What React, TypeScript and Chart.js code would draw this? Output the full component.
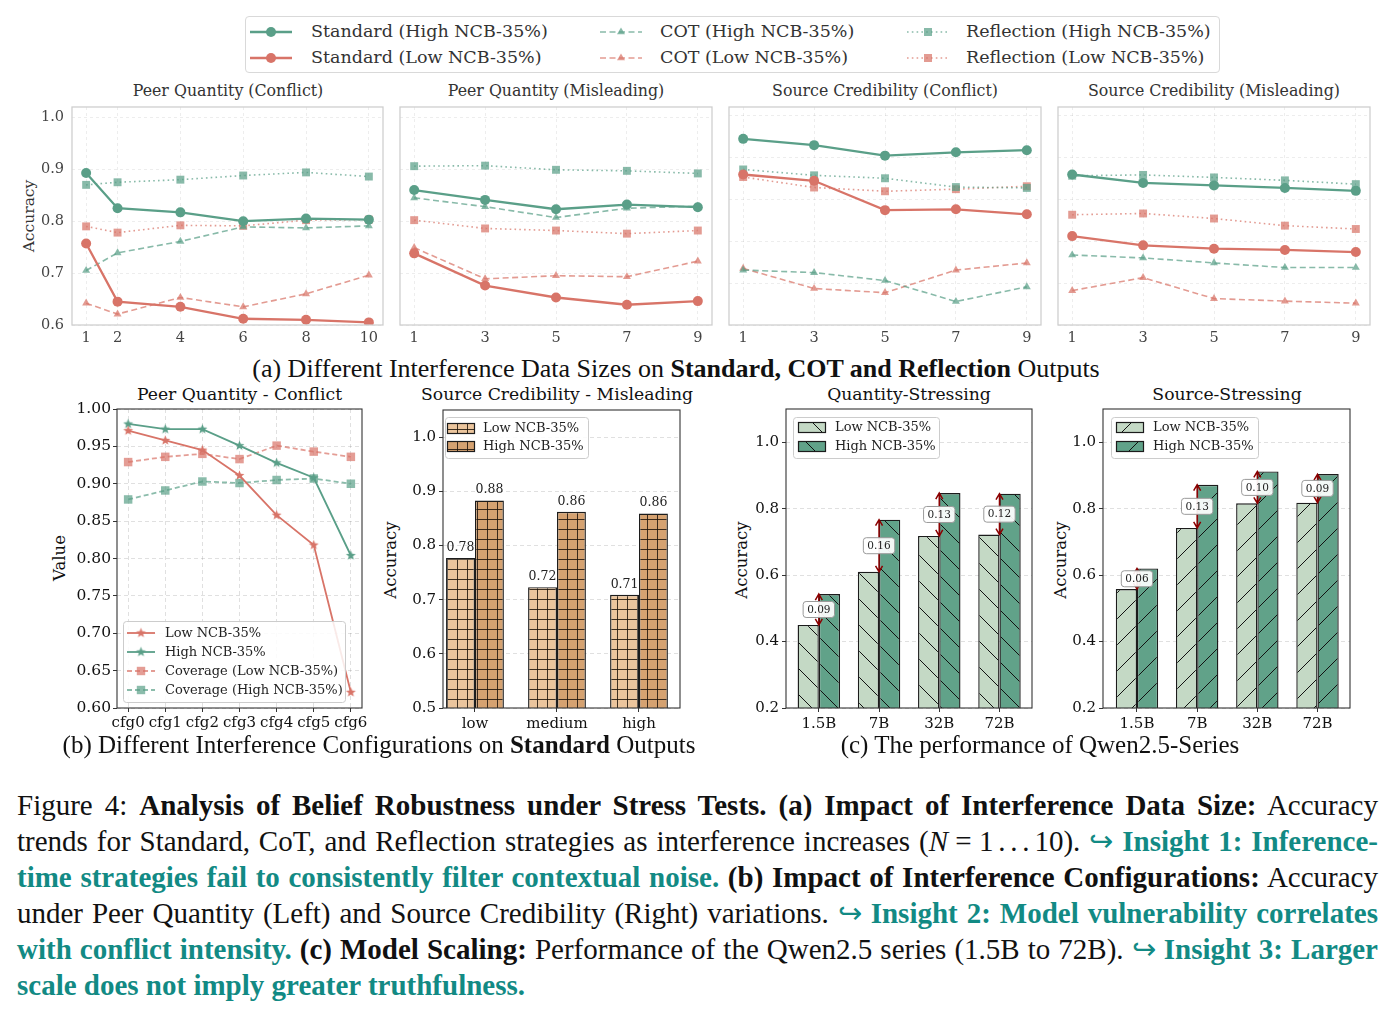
import React, { useEffect, useLayoutEffect, useRef } from 'react';
import { Chart, registerables } from 'chart.js';

Chart.register(...registerables);

const SERIF = "'DejaVu Serif', serif";
const TIMES = "'Liberation Serif', 'Times New Roman', serif";
const TEAL = '#128a84';

const GREEN = [90, 159, 136];
const RED = [216, 116, 104];
const rgba = (c: number[], a = 1) => `rgba(${c[0]},${c[1]},${c[2]},${a})`;

// ---------- (a) interference data size ----------
const sizesWide = [1, 2, 4, 6, 8, 10];
const sizesOdd = [1, 3, 5, 7, 9];
const accTicksPQ = [0.6, 0.7, 0.8, 0.9, 1.0];
const accTicksSC = [0.5, 0.6, 0.7, 0.8, 0.9, 1.0];

const pqcStdHigh = [0.893, 0.825, 0.817, 0.8, 0.805, 0.803];
const pqcStdLow = [0.757, 0.645, 0.635, 0.612, 0.61, 0.605];
const pqcCotHigh = [0.705, 0.739, 0.761, 0.789, 0.787, 0.791];
const pqcCotLow = [0.642, 0.621, 0.653, 0.635, 0.66, 0.696];
const pqcReflHigh = [0.87, 0.875, 0.88, 0.888, 0.894, 0.886];
const pqcReflLow = [0.79, 0.778, 0.792, 0.791, 0.802, 0.803];

const pqmStdHigh = [0.86, 0.841, 0.823, 0.832, 0.827];
const pqmStdLow = [0.738, 0.676, 0.653, 0.639, 0.646];
const pqmCotHigh = [0.845, 0.828, 0.807, 0.825, 0.829];
const pqmCotLow = [0.749, 0.689, 0.695, 0.693, 0.723];
const pqmReflHigh = [0.906, 0.907, 0.899, 0.897, 0.892];
const pqmReflLow = [0.802, 0.786, 0.782, 0.776, 0.782];

const sccStdHigh = [0.944, 0.929, 0.904, 0.912, 0.917];
const sccStdLow = [0.859, 0.844, 0.774, 0.776, 0.764];
const sccCotHigh = [0.631, 0.625, 0.606, 0.556, 0.591];
const sccCotLow = [0.635, 0.587, 0.577, 0.631, 0.648];
const sccReflHigh = [0.871, 0.857, 0.85, 0.829, 0.827];
const sccReflLow = [0.853, 0.828, 0.819, 0.824, 0.831];

const scmStdHigh = [0.859, 0.839, 0.833, 0.827, 0.82];
const scmStdLow = [0.712, 0.69, 0.682, 0.679, 0.674];
const scmCotHigh = [0.667, 0.66, 0.648, 0.637, 0.637];
const scmCotLow = [0.582, 0.613, 0.563, 0.557, 0.552];
const scmReflHigh = [0.856, 0.858, 0.852, 0.845, 0.836];
const scmReflLow = [0.763, 0.766, 0.754, 0.737, 0.729];

// ---------- (b) interference configurations ----------
const configLabels = ['cfg0', 'cfg1', 'cfg2', 'cfg3', 'cfg4', 'cfg5', 'cfg6'];
const cfgLow = [0.971, 0.958, 0.945, 0.911, 0.858, 0.818, 0.621];
const cfgHigh = [0.98, 0.973, 0.973, 0.951, 0.928, 0.908, 0.804];
const coverageLow = [0.929, 0.936, 0.94, 0.933, 0.951, 0.943, 0.936];
const coverageHigh = [0.879, 0.891, 0.903, 0.901, 0.905, 0.907, 0.9];
const valueTicks = [0.6, 0.65, 0.7, 0.75, 0.8, 0.85, 0.9, 0.95, 1.0];

const credibilityLevels = ['low', 'medium', 'high'];
const credLowNcb = [0.777, 0.723, 0.709];
const credHighNcb = [0.883, 0.862, 0.859];
const credTicks = [0.5, 0.6, 0.7, 0.8, 0.9, 1.0];

// ---------- (c) Qwen2.5 scaling ----------
const modelSizes = ['1.5B', '7B', '32B', '72B'];
const qtyLow = [0.45, 0.61, 0.718, 0.722];
const qtyHigh = [0.543, 0.767, 0.847, 0.845];
const srcLow = [0.558, 0.742, 0.816, 0.818];
const srcHigh = [0.62, 0.872, 0.912, 0.904];
const scaleTicks = [0.2, 0.4, 0.6, 0.8, 1.0];

type CanvasRect = { left: number; top: number; width: number; height: number };
type PlotBox = { l: number; t: number; r: number; b: number };

function frame(canvas: CanvasRect, plot: PlotBox) {
  return {
    padding: { left: 0, top: plot.t - canvas.top, right: canvas.left + canvas.width - plot.r, bottom: 0 },
    yWidth: plot.l - canvas.left,
    xHeight: canvas.top + canvas.height - plot.b,
  };
}

const fixedTicks = (values: number[]) => (scale: any) => {
  scale.ticks = values.map((value) => ({ value }));
};

const framePlugin = (color: string, width: number) => ({
  id: 'frameBox',
  afterDatasetsDraw(chart: any) {
    const { ctx, chartArea: a } = chart;
    ctx.save();
    ctx.strokeStyle = color;
    ctx.lineWidth = width;
    ctx.strokeRect(a.left, a.top, a.right - a.left, a.bottom - a.top);
    ctx.restore();
  },
});

type LegendRow = { label: string; sample: (ctx: CanvasRenderingContext2D, x: number, y: number) => void };
const boxLegend = (box: { x: number; y: number; w: number; h: number }, rows: LegendRow[], rowY: number[], textX: number) => ({
  id: 'boxLegend',
  afterDraw(chart: any) {
    const { ctx, chartArea: a } = chart;
    ctx.save();
    ctx.beginPath();
    ctx.roundRect(a.left + box.x + 0.5, a.top + box.y + 0.5, box.w, box.h, 3);
    ctx.fillStyle = 'rgba(255,255,255,0.85)';
    ctx.fill();
    ctx.strokeStyle = '#cccccc';
    ctx.lineWidth = 1;
    ctx.stroke();
    rows.forEach((row, i) => {
      row.sample(ctx, a.left, a.top + rowY[i]);
      ctx.fillStyle = '#222';
      ctx.font = `13px ${SERIF}`;
      ctx.textAlign = 'left';
      ctx.textBaseline = 'middle';
      ctx.fillText(row.label, a.left + textX, a.top + rowY[i] + 0.5);
    });
    ctx.restore();
  },
});

function hatch(base: string, kind: 'grid' | 'back' | 'fwd', step: number, ink: string, lw: number): CanvasPattern {
  const c = document.createElement('canvas');
  c.width = step;
  c.height = step;
  const g = c.getContext('2d')!;
  g.fillStyle = base;
  g.fillRect(0, 0, step, step);
  g.strokeStyle = ink;
  g.lineWidth = lw;
  g.beginPath();
  if (kind === 'grid') {
    const m = Math.floor(step / 2) + 0.5;
    g.moveTo(m, 0);
    g.lineTo(m, step);
    g.moveTo(0, m);
    g.lineTo(step, m);
  } else if (kind === 'back') {
    for (const k of [-1, 0, 1]) {
      g.moveTo(k * step, 0);
      g.lineTo(k * step + step, step);
    }
  } else {
    for (const k of [-1, 0, 1]) {
      g.moveTo(k * step, step);
      g.lineTo(k * step + step, 0);
    }
  }
  g.stroke();
  return g.createPattern(c, 'repeat')!;
}

function starMarker(color: string, r: number): HTMLCanvasElement {
  const size = Math.ceil(r * 2 + 2);
  const c = document.createElement('canvas');
  c.width = size;
  c.height = size;
  const g = c.getContext('2d')!;
  g.fillStyle = color;
  g.beginPath();
  for (let k = 0; k < 10; k++) {
    const rad = k % 2 === 0 ? r : r * 0.42;
    const ang = -Math.PI / 2 + (k * Math.PI) / 5;
    const px = size / 2 + rad * Math.cos(ang);
    const py = size / 2 + rad * Math.sin(ang);
    if (k === 0) g.moveTo(px, py);
    else g.lineTo(px, py);
  }
  g.closePath();
  g.fill();
  return c;
}

const baseOptions = (f: ReturnType<typeof frame>) => ({
  responsive: false,
  animation: false,
  events: [],
  layout: { padding: f.padding },
  plugins: { legend: { display: false }, tooltip: { enabled: false } },
});

// ---------- (a) line panels ----------
type Pair = [number[], number[]];
function strategyChart(p: {
  canvas: CanvasRect; plot: PlotBox; xs: number[]; xMin: number; xMax: number;
  yMin: number; yTicks: number[]; showY: boolean; std: Pair; cot: Pair; refl: Pair;
}) {
  const f = frame(p.canvas, p.plot);
  const pts = (ys: number[]) => p.xs.map((x, i) => ({ x, y: ys[i] }));
  const std = (ys: number[], rgb: number[]) => ({
    data: pts(ys), borderColor: rgba(rgb, 1), backgroundColor: rgba(rgb, 1), borderWidth: 2.3,
    pointStyle: 'circle', pointRadius: 5, pointBorderWidth: 0, pointBackgroundColor: rgba(rgb, 1),
  });
  const cot = (ys: number[], rgb: number[]) => ({
    data: pts(ys), borderColor: rgba(rgb, 0.72), borderWidth: 1.6, borderDash: [6, 3.5],
    pointStyle: 'triangle', pointRadius: 4.6, pointBorderWidth: 0, pointBackgroundColor: rgba(rgb, 0.72),
  });
  const refl = (ys: number[], rgb: number[]) => ({
    data: pts(ys), borderColor: rgba(rgb, 0.72), borderWidth: 1.6, borderDash: [1.6, 3.2],
    pointStyle: 'rect', pointRadius: 5.6, pointBorderWidth: 0, pointBackgroundColor: rgba(rgb, 0.72),
  });
  return {
    type: 'line',
    data: {
      datasets: [
        std(p.std[0], GREEN), std(p.std[1], RED),
        cot(p.cot[0], GREEN), cot(p.cot[1], RED),
        refl(p.refl[0], GREEN), refl(p.refl[1], RED),
      ],
    },
    options: {
      ...baseOptions(f),
      scales: {
        x: {
          type: 'linear', min: p.xMin, max: p.xMax, bounds: 'data',
          afterBuildTicks: fixedTicks(p.xs),
          afterFit: (s: any) => { s.height = f.xHeight; },
          ticks: { autoSkip: false, maxRotation: 0, padding: 5, color: '#444', font: { family: SERIF, size: 14.5 }, callback: (v: number) => String(v) },
          grid: { color: 'rgba(0,0,0,0.07)', lineWidth: 1, drawTicks: false },
          border: { display: false, dash: [3, 3] },
        },
        y: {
          type: 'linear', min: p.yMin, max: 1.02, bounds: 'data',
          afterBuildTicks: fixedTicks(p.yTicks),
          afterFit: (s: any) => { s.width = f.yWidth; },
          ticks: { display: p.showY, padding: 8, color: '#444', font: { family: SERIF, size: 14.5 }, callback: (v: number) => v.toFixed(1) },
          grid: { color: 'rgba(0,0,0,0.07)', lineWidth: 1, drawTicks: false },
          border: { display: false, dash: [3, 3] },
        },
      },
    },
    plugins: [framePlugin('#cfcfcf', 1.3)],
  };
}

// ---------- (b) left: configuration lines ----------
function configChart(canvas: CanvasRect, plot: PlotBox) {
  const f = frame(canvas, plot);
  const xs = configLabels.map((_, i) => i);
  const pts = (ys: number[]) => xs.map((x, i) => ({ x, y: ys[i] }));
  const starRed = starMarker(rgba(RED, 1), 5.2);
  const starGreen = starMarker(rgba(GREEN, 1), 5.2);
  const solid = (ys: number[], rgb: number[], star: HTMLCanvasElement) => ({
    data: pts(ys), borderColor: rgba(rgb, 1), borderWidth: 1.8, pointStyle: star, pointRadius: 5,
  });
  const dashed = (ys: number[], rgb: number[]) => ({
    data: pts(ys), borderColor: rgba(rgb, 0.7), borderWidth: 1.8, borderDash: [5, 3],
    pointStyle: 'rect', pointRadius: 6, pointBorderWidth: 0, pointBackgroundColor: rgba(rgb, 0.7),
  });
  const lineSample = (rgb: number[], a: number, dash: number[], marker: (ctx: CanvasRenderingContext2D, x: number, y: number) => void) =>
    (ctx: CanvasRenderingContext2D, ox: number, y: number) => {
      ctx.save();
      ctx.strokeStyle = rgba(rgb, a);
      ctx.lineWidth = 1.8;
      ctx.setLineDash(dash);
      ctx.beginPath();
      ctx.moveTo(ox + 10, y);
      ctx.lineTo(ox + 38, y);
      ctx.stroke();
      ctx.setLineDash([]);
      marker(ctx, ox + 24, y);
      ctx.restore();
    };
  const starAt = (img: HTMLCanvasElement) => (ctx: CanvasRenderingContext2D, x: number, y: number) =>
    ctx.drawImage(img, x - img.width / 2, y - img.height / 2);
  const squareAt = (rgb: number[]) => (ctx: CanvasRenderingContext2D, x: number, y: number) => {
    ctx.fillStyle = rgba(rgb, 0.7);
    ctx.fillRect(x - 4.2, y - 4.2, 8.4, 8.4);
  };
  return {
    type: 'line',
    data: {
      datasets: [
        solid(cfgLow, RED, starRed), solid(cfgHigh, GREEN, starGreen),
        dashed(coverageLow, RED), dashed(coverageHigh, GREEN),
      ],
    },
    options: {
      ...baseOptions(f),
      scales: {
        x: {
          type: 'linear', min: -0.3, max: 6.3, bounds: 'data',
          afterBuildTicks: fixedTicks(xs),
          afterFit: (s: any) => { s.height = f.xHeight; },
          ticks: { autoSkip: false, maxRotation: 0, padding: 2, color: '#111', font: { family: SERIF, size: 15 }, callback: (v: number) => configLabels[v] },
          grid: { color: 'rgba(0,0,0,0.12)', tickColor: '#333', tickLength: 4, tickBorderDash: [] },
          border: { display: false, dash: [4, 3] },
        },
        y: {
          type: 'linear', min: 0.6, max: 1.0, bounds: 'data',
          afterBuildTicks: fixedTicks(valueTicks),
          afterFit: (s: any) => { s.width = f.yWidth; },
          ticks: { padding: 2, color: '#111', font: { family: SERIF, size: 15.5 }, callback: (v: number) => v.toFixed(2) },
          grid: { color: 'rgba(0,0,0,0.12)', tickColor: '#333', tickLength: 4, tickBorderDash: [] },
          border: { display: false, dash: [4, 3] },
        },
      },
    },
    plugins: [
      framePlugin('#333', 1.1),
      boxLegend({ x: 6, y: 212, w: 222, h: 81 }, [
        { label: 'Low NCB-35%', sample: lineSample(RED, 1, [], starAt(starRed)) },
        { label: 'High NCB-35%', sample: lineSample(GREEN, 1, [], starAt(starGreen)) },
        { label: 'Coverage (Low NCB-35%)', sample: lineSample(RED, 0.7, [5, 3], squareAt(RED)) },
        { label: 'Coverage (High NCB-35%)', sample: lineSample(GREEN, 0.7, [5, 3], squareAt(GREEN)) },
      ], [224, 243, 262, 281], 48),
    ],
  };
}

// ---------- grouped hatched bars ----------
function barChart(p: {
  canvas: CanvasRect; plot: PlotBox; cats: string[]; xMin: number; xMax: number;
  yMin: number; yMax: number; yTicks: number[]; yDigits: number;
  low: number[]; high: number[]; lowFill: CanvasPattern; highFill: CanvasPattern;
  legend: { box: { x: number; y: number; w: number; h: number }; rows: number[]; patchX: number; textX: number };
  extra: any;
}) {
  const f = frame(p.canvas, p.plot);
  const xs = p.cats.map((_, i) => i);
  const pts = (ys: number[]) => xs.map((x, i) => ({ x, y: ys[i] }));
  const bar = (ys: number[], fill: CanvasPattern) => ({
    data: pts(ys), backgroundColor: fill, borderColor: '#1c1c1c', borderWidth: 1.4, borderSkipped: false,
    categoryPercentage: 0.705, barPercentage: 1,
  });
  const patch = (fill: CanvasPattern) => (ctx: CanvasRenderingContext2D, ox: number, y: number) => {
    ctx.fillStyle = fill;
    ctx.fillRect(ox + p.legend.patchX, y - 5, 27, 10);
    ctx.strokeStyle = '#1c1c1c';
    ctx.lineWidth = 1.2;
    ctx.strokeRect(ox + p.legend.patchX + 0.5, y - 5 + 0.5, 27, 10);
  };
  return {
    type: 'bar',
    data: { datasets: [bar(p.low, p.lowFill), bar(p.high, p.highFill)] },
    options: {
      ...baseOptions(f),
      scales: {
        x: {
          type: 'linear', min: p.xMin, max: p.xMax, bounds: 'data', offset: false,
          afterBuildTicks: fixedTicks(xs),
          afterFit: (s: any) => { s.height = f.xHeight; },
          ticks: { autoSkip: false, maxRotation: 0, padding: 3, color: '#111', font: { family: SERIF, size: 15 }, callback: (v: number) => p.cats[v] },
          grid: { offset: false, drawOnChartArea: false, tickColor: '#333', tickLength: 4 },
          border: { display: false },
        },
        y: {
          type: 'linear', min: p.yMin, max: p.yMax, bounds: 'data',
          afterBuildTicks: fixedTicks(p.yTicks),
          afterFit: (s: any) => { s.width = f.yWidth; },
          ticks: { padding: 3, color: '#111', font: { family: SERIF, size: 15 }, callback: (v: number) => v.toFixed(p.yDigits) },
          grid: { color: 'rgba(0,0,0,0.12)', tickColor: '#333', tickLength: 4, tickBorderDash: [] },
          border: { display: false, dash: [4, 3] },
        },
      },
    },
    plugins: [
      framePlugin('#333', 1.1),
      p.extra,
      boxLegend(p.legend.box, [
        { label: 'Low NCB-35%', sample: patch(p.lowFill) },
        { label: 'High NCB-35%', sample: patch(p.highFill) },
      ], p.legend.rows, p.legend.textX),
    ],
  };
}

const valueLabels = {
  id: 'valueLabels',
  afterDatasetsDraw(chart: any) {
    const { ctx } = chart;
    ctx.save();
    ctx.font = `12.5px ${SERIF}`;
    ctx.fillStyle = '#222';
    ctx.textAlign = 'center';
    ctx.textBaseline = 'bottom';
    chart.data.datasets.forEach((ds: any, d: number) => {
      chart.getDatasetMeta(d).data.forEach((el: any, i: number) => {
        ctx.fillText(ds.data[i].y.toFixed(2), el.x, el.y - 4);
      });
    });
    ctx.restore();
  },
};

function gapArrows(lows: number[], highs: number[]) {
  return {
    id: 'gapArrows',
    afterDatasetsDraw(chart: any) {
      const { ctx } = chart;
      const xs = chart.scales.x;
      const ys = chart.scales.y;
      ctx.save();
      lows.forEach((lo, i) => {
        const hi = highs[i];
        const px = xs.getPixelForValue(i);
        const yLo = ys.getPixelForValue(lo);
        const yHi = ys.getPixelForValue(hi);
        ctx.strokeStyle = '#8b0000';
        ctx.lineWidth = 1.5;
        ctx.beginPath();
        ctx.moveTo(px, yHi);
        ctx.lineTo(px, yLo);
        ctx.moveTo(px - 3.5, yHi + 6);
        ctx.lineTo(px, yHi);
        ctx.lineTo(px + 3.5, yHi + 6);
        ctx.moveTo(px - 3.5, yLo - 6);
        ctx.lineTo(px, yLo);
        ctx.lineTo(px + 3.5, yLo - 6);
        ctx.stroke();
        const label = (hi - lo).toFixed(2);
        ctx.font = `10.5px ${SERIF}`;
        const w = ctx.measureText(label).width + 8;
        const h = 16;
        const cy = (yLo + yHi) / 2;
        ctx.beginPath();
        ctx.roundRect(px - w / 2, cy - h / 2, w, h, 3);
        ctx.fillStyle = 'rgba(255,255,255,0.92)';
        ctx.fill();
        ctx.strokeStyle = '#9a9a9a';
        ctx.lineWidth = 1;
        ctx.stroke();
        ctx.fillStyle = '#222';
        ctx.textAlign = 'center';
        ctx.textBaseline = 'middle';
        ctx.fillText(label, px, cy + 0.5);
      });
      ctx.restore();
    },
  };
}

function ChartCanvas({ rect, build }: { rect: CanvasRect; build: () => any }) {
  const ref = useRef<HTMLCanvasElement | null>(null);
  useEffect(() => {
    if (!ref.current) return;
    const chart = new Chart(ref.current, build());
    return () => chart.destroy();
  }, []);
  return (
    <canvas
      ref={ref}
      width={rect.width}
      height={rect.height}
      style={{ position: 'absolute', left: rect.left, top: rect.top, width: rect.width, height: rect.height }}
    />
  );
}

function Txt(props: { x: number; y: number; size: number; children: any; family?: string; color?: string; rotate?: boolean }) {
  return (
    <div
      style={{
        position: 'absolute', left: props.x, top: props.y, whiteSpace: 'nowrap', lineHeight: 1,
        fontFamily: props.family || SERIF, fontSize: props.size, color: props.color || '#222',
        transform: `translate(-50%, -50%)${props.rotate ? ' rotate(-90deg)' : ''}`,
      }}
    >
      {props.children}
    </div>
  );
}

function StrategySample({ rgb, kind }: { rgb: number[]; kind: 'std' | 'cot' | 'refl' }) {
  const color = rgba(rgb, kind === 'std' ? 1 : 0.72);
  const dash = kind === 'std' ? undefined : kind === 'cot' ? '6 3.5' : '1.6 3.2';
  return (
    <svg width={42} height={14} style={{ display: 'block' }}>
      <line x1={0} y1={7} x2={42} y2={7} stroke={color} strokeWidth={kind === 'std' ? 2.3 : 1.6} strokeDasharray={dash} />
      {kind === 'std' && <circle cx={21} cy={7} r={5} fill={color} />}
      {kind === 'cot' && <polygon points="21,2.4 25,9.3 17,9.3" fill={color} />}
      {kind === 'refl' && <rect x={17} y={3} width={8} height={8} fill={color} />}
    </svg>
  );
}

const legendColumns: { kind: 'std' | 'cot' | 'refl'; name: string; sx: number; tx: number }[] = [
  { kind: 'std', name: 'Standard', sx: 250, tx: 311 },
  { kind: 'cot', name: 'COT', sx: 600, tx: 660 },
  { kind: 'refl', name: 'Reflection', sx: 907, tx: 966 },
];

function StrategyLegend() {
  const rows: { rgb: number[]; tag: string; y: number }[] = [
    { rgb: GREEN, tag: 'High NCB-35%', y: 32 },
    { rgb: RED, tag: 'Low NCB-35%', y: 58 },
  ];
  return (
    <>
      <div style={{ position: 'absolute', left: 245, top: 16, width: 975, height: 57, border: '1px solid #d9d9d9', borderRadius: 4, boxSizing: 'border-box' }} />
      {legendColumns.map((c) =>
        rows.map((r) => (
          <React.Fragment key={c.name + r.tag}>
            <div style={{ position: 'absolute', left: c.sx, top: r.y - 7 }}>
              <StrategySample rgb={r.rgb} kind={c.kind} />
            </div>
            <div style={{ position: 'absolute', left: c.tx, top: r.y, transform: 'translateY(-50%)', fontFamily: SERIF, fontSize: 17.5, color: '#333', whiteSpace: 'nowrap', lineHeight: 1 }}>
              {`${c.name} (${r.tag})`}
            </div>
          </React.Fragment>
        )),
      )}
    </>
  );
}

const CAPTION_LEFT = 17;
const CAPTION_WIDTH = 1361;

function CaptionLine({ top, justify, children }: { top: number; justify: boolean; children: any }) {
  const ref = useRef<HTMLDivElement | null>(null);
  useLayoutEffect(() => {
    const el = ref.current;
    if (!el || !justify) return;
    const fit = () => {
      el.style.wordSpacing = '0px';
      const natural = el.getBoundingClientRect().width;
      const spaces = (el.textContent || '').split(' ').length - 1;
      if (spaces > 0) el.style.wordSpacing = `${(CAPTION_WIDTH - natural) / spaces}px`;
    };
    fit();
    if ((document as any).fonts) (document as any).fonts.ready.then(fit);
  }, []);
  return (
    <div
      ref={ref}
      style={{ position: 'absolute', left: CAPTION_LEFT, top, whiteSpace: 'nowrap', fontFamily: TIMES, fontSize: 29, lineHeight: '36px', color: '#111' }}
    >
      {children}
    </div>
  );
}

const B = ({ children }: { children: any }) => <b>{children}</b>;
const Ins = ({ children }: { children: any }) => <b style={{ color: TEAL }}>{children}</b>;
const Hook = () => <span style={{ color: TEAL }}>{'\u21AA'}</span>;

export default function App() {
  const topCanvas = (left: number, width: number): CanvasRect => ({ left, top: 82, width, height: 268 });
  const botCanvas = (left: number, width: number): CanvasRect => ({ left, top: 384, width, height: 361 });

  return (
    <div style={{ position: 'absolute', left: 0, top: 0, width: 1398, height: 1016, background: '#fff', overflow: 'hidden' }}>
      <StrategyLegend />

      <Txt x={228} y={91} size={15.8} color="#333">Peer Quantity (Conflict)</Txt>
      <Txt x={556} y={91} size={15.8} color="#333">Peer Quantity (Misleading)</Txt>
      <Txt x={885} y={91} size={15.8} color="#333">Source Credibility (Conflict)</Txt>
      <Txt x={1214} y={91} size={15.8} color="#333">Source Credibility (Misleading)</Txt>
      <Txt x={30} y={216} size={15.5} color="#333" rotate>Accuracy</Txt>

      <ChartCanvas
        rect={topCanvas(0, 398)}
        build={() => strategyChart({
          canvas: topCanvas(0, 398), plot: { l: 72, t: 107, r: 383, b: 325 }, xs: sizesWide, xMin: 0.55, xMax: 10.45,
          yMin: 0.6, yTicks: accTicksPQ, showY: true,
          std: [pqcStdHigh, pqcStdLow], cot: [pqcCotHigh, pqcCotLow], refl: [pqcReflHigh, pqcReflLow],
        })}
      />
      <ChartCanvas
        rect={topCanvas(390, 337)}
        build={() => strategyChart({
          canvas: topCanvas(390, 337), plot: { l: 400, t: 107, r: 712, b: 325 }, xs: sizesOdd, xMin: 0.6, xMax: 9.4,
          yMin: 0.6, yTicks: accTicksPQ, showY: false,
          std: [pqmStdHigh, pqmStdLow], cot: [pqmCotHigh, pqmCotLow], refl: [pqmReflHigh, pqmReflLow],
        })}
      />
      <ChartCanvas
        rect={topCanvas(719, 337)}
        build={() => strategyChart({
          canvas: topCanvas(719, 337), plot: { l: 729, t: 107, r: 1041, b: 325 }, xs: sizesOdd, xMin: 0.6, xMax: 9.4,
          yMin: 0.5, yTicks: accTicksSC, showY: false,
          std: [sccStdHigh, sccStdLow], cot: [sccCotHigh, sccCotLow], refl: [sccReflHigh, sccReflLow],
        })}
      />
      <ChartCanvas
        rect={topCanvas(1048, 345)}
        build={() => strategyChart({
          canvas: topCanvas(1048, 345), plot: { l: 1058, t: 107, r: 1370, b: 325 }, xs: sizesOdd, xMin: 0.6, xMax: 9.4,
          yMin: 0.5, yTicks: accTicksSC, showY: false,
          std: [scmStdHigh, scmStdLow], cot: [scmCotHigh, scmCotLow], refl: [scmReflHigh, scmReflLow],
        })}
      />

      <Txt x={676} y={369} size={26} family={TIMES} color="#111">
        (a) Different Interference Data Sizes on <B>Standard, COT and Reflection</B> Outputs
      </Txt>

      <Txt x={239.5} y={395} size={17.2} color="#111">Peer Quantity - Conflict</Txt>
      <Txt x={557} y={395} size={17.2} color="#111">Source Credibility - Misleading</Txt>
      <Txt x={909} y={395} size={17.2} color="#111">Quantity-Stressing</Txt>
      <Txt x={1227} y={395} size={17.2} color="#111">Source-Stressing</Txt>
      <Txt x={60} y={558} size={16.5} color="#111" rotate>Value</Txt>
      <Txt x={391} y={560} size={16.5} color="#111" rotate>Accuracy</Txt>
      <Txt x={742} y={560} size={16.5} color="#111" rotate>Accuracy</Txt>
      <Txt x={1061} y={560} size={16.5} color="#111" rotate>Accuracy</Txt>

      <ChartCanvas rect={botCanvas(40, 340)} build={() => configChart(botCanvas(40, 340), { l: 117, t: 409, r: 362, b: 708 })} />
      <ChartCanvas
        rect={botCanvas(372, 323)}
        build={() => barChart({
          canvas: botCanvas(372, 323), plot: { l: 443, t: 410, r: 680, b: 708 }, cats: credibilityLevels, xMin: -0.39, xMax: 2.5,
          yMin: 0.5, yMax: 1.05, yTicks: credTicks, yDigits: 1, low: credLowNcb, high: credHighNcb,
          lowFill: hatch('#ebc59d', 'grid', 10, 'rgba(30,20,10,0.85)', 1),
          highFill: hatch('#d5a271', 'grid', 10, 'rgba(30,20,10,0.85)', 1),
          legend: { box: { x: 2, y: 7, w: 143, h: 41 }, rows: [18, 36], patchX: 4, textX: 40 },
          extra: valueLabels,
        })}
      />
      <ChartCanvas
        rect={botCanvas(722, 328)}
        build={() => barChart({
          canvas: botCanvas(722, 328), plot: { l: 786, t: 409, r: 1032, b: 708 }, cats: modelSizes, xMin: -0.545, xMax: 3.54,
          yMin: 0.2, yMax: 1.1, yTicks: scaleTicks, yDigits: 1, low: qtyLow, high: qtyHigh,
          lowFill: hatch('#c4d9c5', 'back', 26, '#111', 1),
          highFill: hatch('#61a289', 'back', 26, '#111', 1),
          legend: { box: { x: 7, y: 8, w: 146, h: 41 }, rows: [18, 37], patchX: 12, textX: 49 },
          extra: gapArrows(qtyLow, qtyHigh),
        })}
      />
      <ChartCanvas
        rect={botCanvas(1040, 330)}
        build={() => barChart({
          canvas: botCanvas(1040, 330), plot: { l: 1103, t: 409, r: 1350, b: 708 }, cats: modelSizes, xMin: -0.565, xMax: 3.54,
          yMin: 0.2, yMax: 1.1, yTicks: scaleTicks, yDigits: 1, low: srcLow, high: srcHigh,
          lowFill: hatch('#c4d9c5', 'fwd', 26, '#111', 1),
          highFill: hatch('#61a289', 'fwd', 26, '#111', 1),
          legend: { box: { x: 8, y: 8, w: 147, h: 41 }, rows: [18, 37], patchX: 13, textX: 50 },
          extra: gapArrows(srcLow, srcHigh),
        })}
      />

      <Txt x={379} y={744} size={25} family={TIMES} color="#111">
        (b) Different Interference Configurations on <B>Standard</B> Outputs
      </Txt>
      <Txt x={1040} y={744} size={25} family={TIMES} color="#111">(c) The performance of Qwen2.5-Series</Txt>

      <CaptionLine top={787} justify>
        Figure 4: <B>Analysis of Belief Robustness under Stress Tests. (a) Impact of Interference Data Size:</B> Accuracy
      </CaptionLine>
      <CaptionLine top={823} justify>
        trends for Standard, CoT, and Reflection strategies as interference increases (<i>N</i>{'\u2005=\u20051\u2006.\u2006.\u2006.\u200610'}). <Hook /> <Ins>Insight 1: Inference-</Ins>
      </CaptionLine>
      <CaptionLine top={859} justify>
        <Ins>time strategies fail to consistently filter contextual noise.</Ins> <B>(b) Impact of Interference Configurations:</B> Accuracy
      </CaptionLine>
      <CaptionLine top={895} justify>
        under Peer Quantity (Left) and Source Credibility (Right) variations. <Hook /> <Ins>Insight 2: Model vulnerability correlates</Ins>
      </CaptionLine>
      <CaptionLine top={931} justify>
        <Ins>with conflict intensity.</Ins> <B>(c) Model Scaling:</B> Performance of the Qwen2.5 series (1.5B to 72B). <Hook /> <Ins>Insight 3: Larger</Ins>
      </CaptionLine>
      <CaptionLine top={967} justify={false}>
        <Ins>scale does not imply greater truthfulness.</Ins>
      </CaptionLine>
    </div>
  );
}
